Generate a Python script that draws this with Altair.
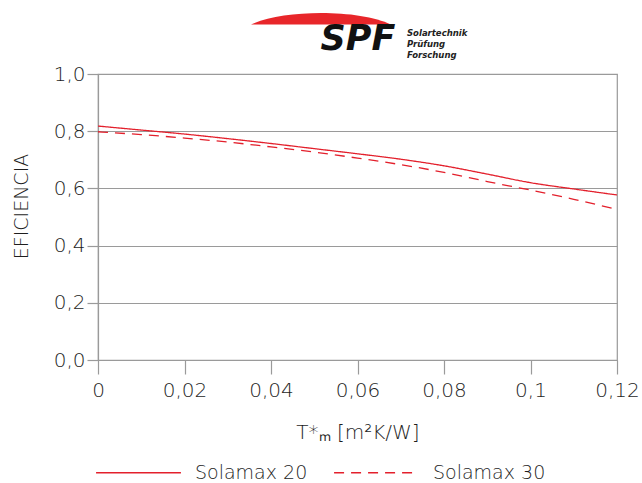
import altair as alt
import pandas as pd

# ---- data ----
t_m = [0.0, 0.01, 0.02, 0.03, 0.04, 0.05, 0.06, 0.07, 0.08, 0.09, 0.10, 0.11, 0.12]
solamax_20 = [0.818, 0.804, 0.790, 0.774, 0.757, 0.739, 0.721, 0.702, 0.679, 0.650, 0.620, 0.598, 0.577]
solamax_30 = [0.798, 0.788, 0.776, 0.762, 0.745, 0.727, 0.706, 0.683, 0.656, 0.624, 0.594, 0.562, 0.526]
series = ["Solamax 20", "Solamax 30"]
x_ticks = [0, 0.02, 0.04, 0.06, 0.08, 0.10, 0.12]
y_ticks = [0, 0.2, 0.4, 0.6, 0.8, 1.0]
logo_main = ["SPF"]
logo_lines = ["Solartechnik", "Prüfung", "Forschung"]

RED = "#e3202c"
GRAY = "#9a9a9a"
TXT = "#1e1e1e"
FONT = "DejaVu Sans"

rows = []
for x, a, b in zip(t_m, solamax_20, solamax_30):
    rows.append({"x": x, "eff": a, "serie": series[0]})
    rows.append({"x": x, "eff": b, "serie": series[1]})
df = pd.DataFrame(rows)

W, H = 519, 286

lines = alt.Chart(df).mark_line(color=RED, strokeWidth=1.3, interpolate="monotone").encode(
    x=alt.X("x:Q",
            scale=alt.Scale(domain=[0, 0.12], nice=False, zero=False),
            axis=alt.Axis(values=x_ticks, title="T*ₘ [m²K/W]",
                          labelExpr="replace(format(datum.value, '~g'), '.', ',')",
                          grid=False, tickSize=14, labelPadding=6,
                          labelFlush=False, titleY=72, titleBaseline="middle",
                          titleFontSize=20)),
    y=alt.Y("eff:Q",
            scale=alt.Scale(domain=[0, 1], nice=False),
            axis=alt.Axis(values=y_ticks, title="EFICIENCIA",
                          labelExpr="replace(format(datum.value, '.1f'), '.', ',')",
                          grid=True, tickSize=11, labelPadding=2,
                          labelFlush=False, titleX=-77, titleY=132,
                          titleBaseline="middle", titleAlign="center",
                          titleFontSize=19)),
    strokeDash=alt.StrokeDash("serie:N",
                              scale=alt.Scale(domain=series, range=[[1, 0], [10, 7]]),
                              legend=alt.Legend(title=None, orient="none",
                                                legendX=-3, legendY=355,
                                                direction="horizontal",
                                                symbolType="stroke",
                                                symbolSize=7200,
                                                symbolStrokeColor=RED,
                                                symbolStrokeWidth=1.3,
                                                labelFontSize=19,
                                                labelFont=FONT,
                                                labelFontWeight=200,
                                                labelColor=TXT,
                                                labelOffset=13,
                                                columnPadding=23)),
)

arc = alt.Chart(pd.DataFrame({"k": ["arc"]})).mark_point(
    shape="M -1 0.08 C -0.55 -0.14 0.55 -0.14 1 0.08 Z",
    filled=True, color="#e8262a", opacity=1, strokeWidth=0,
).encode(x=alt.value(223), y=alt.value(-55), size=alt.value(19600))

spf = alt.Chart(pd.DataFrame({"t": logo_main})).mark_text(
    font="DejaVu Sans", fontSize=35, fontWeight="bold", fontStyle="italic",
    color="#111111", align="center", baseline="alphabetic",
).encode(text="t:N", x=alt.value(260), y=alt.value(-24))

small = alt.Chart(pd.DataFrame({"t": logo_lines, "i": [0, 1, 2]})).transform_calculate(
    yy="-41 + datum.i * 11"
).mark_text(
    font="DejaVu Sans", fontSize=8.5, fontWeight="bold", fontStyle="italic",
    color="#222222", align="left", baseline="middle",
).encode(text="t:N", x=alt.value(309), y=alt.Y("yy:Q", scale=None))

chart = alt.layer(lines, arc, spf, small).properties(
    width=W, height=H,
    background="white",
    autosize=alt.AutoSizeParams(type="none"),
    padding={"left": 98, "top": 74, "right": 25, "bottom": 123},
).configure_view(stroke=GRAY, strokeWidth=1.2).configure_axis(
    domainColor=GRAY, tickColor=GRAY, gridColor=GRAY, gridOpacity=1,
    domainWidth=1.2, tickWidth=1.2, gridWidth=1.2,
    labelFont=FONT, labelFontSize=20, labelColor=TXT, labelFontWeight=200,
    titleFont=FONT, titleColor=TXT, titleFontWeight=200,
)

chart.save("out.html", embed_options={"renderer": "svg", "actions": False})
